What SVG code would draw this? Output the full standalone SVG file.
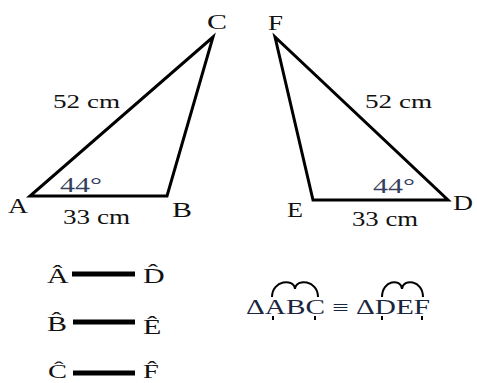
<svg xmlns="http://www.w3.org/2000/svg" width="477" height="383" viewBox="0 0 477 383" font-family="'Liberation Serif', 'Times New Roman', serif">
<style>
.edge{fill:none;stroke:#000;stroke-width:3;stroke-linejoin:miter}
.bar{stroke:#000;stroke-width:5}
.arc{fill:none;stroke:#000;stroke-width:2}
.lbl{fill:#111}
.ang{fill:#34425e}
</style>
<rect width="477" height="383" fill="#fff"/>
<g id="triangle-ABC">
<polygon class="edge" points="30,196 167,196 213,37"/>
<text class="lbl" x="207" y="29" font-size="21" textLength="20" lengthAdjust="spacingAndGlyphs">C</text>
<text class="lbl" x="8" y="213" font-size="21" textLength="20" lengthAdjust="spacingAndGlyphs">A</text>
<text class="lbl" x="172" y="217" font-size="21" textLength="20" lengthAdjust="spacingAndGlyphs">B</text>
<text class="lbl" x="53" y="108" font-size="19" textLength="67" lengthAdjust="spacingAndGlyphs">52 cm</text>
<text class="ang" x="60" y="192" font-size="21" textLength="42" lengthAdjust="spacingAndGlyphs">44°</text>
<text class="lbl" x="63" y="224" font-size="20" textLength="67" lengthAdjust="spacingAndGlyphs">33 cm</text>
</g>
<g id="triangle-DEF">
<polygon class="edge" points="275,37 313,200 448,200"/>
<text class="lbl" x="268" y="30" font-size="21" textLength="15" lengthAdjust="spacingAndGlyphs">F</text>
<text class="lbl" x="287" y="217" font-size="21" textLength="16" lengthAdjust="spacingAndGlyphs">E</text>
<text class="lbl" x="453" y="210" font-size="21" textLength="20" lengthAdjust="spacingAndGlyphs">D</text>
<text class="lbl" x="365" y="108" font-size="19" textLength="67" lengthAdjust="spacingAndGlyphs">52 cm</text>
<text class="ang" x="373" y="193" font-size="21" textLength="42" lengthAdjust="spacingAndGlyphs">44°</text>
<text class="lbl" x="352" y="226" font-size="20" textLength="66" lengthAdjust="spacingAndGlyphs">33 cm</text>
</g>
<g id="correspondence">
<g id="row-A-D">
<text class="lbl" transform="translate(47,283) scale(1.5,1)" font-size="20">Â</text>
<line class="bar" x1="72" y1="274" x2="135" y2="274"/>
<text class="lbl" transform="translate(143,283) scale(1.5,1)" font-size="20">D̂</text>
</g>
<g id="row-B-E">
<text class="lbl" transform="translate(47,331) scale(1.5,1)" font-size="20">B̂</text>
<line class="bar" x1="73" y1="322" x2="135" y2="322"/>
<text class="lbl" transform="translate(143,334) scale(1.5,1)" font-size="20">Ê</text>
</g>
<g id="row-C-F">
<text class="lbl" transform="translate(48,378) scale(1.5,1)" font-size="19">Ĉ</text>
<line class="bar" x1="73" y1="373" x2="135" y2="373"/>
<text class="lbl" transform="translate(143,378) scale(1.5,1)" font-size="19">F̂</text>
</g>
</g>
<g id="congruence">
<text x="246" y="314" font-size="20" fill="#1a2540" textLength="184" lengthAdjust="spacingAndGlyphs">ΔABC ≡ ΔDEF</text>
<path class="arc" d="M272,297 C272,280 294,278 295,289 C296,278 318,280 318,297"/>
<path class="arc" d="M382,297 C382,280 401,278 402,289 C403,278 423,280 423,297"/>
<g stroke="#000" stroke-width="2">
<line x1="273" y1="316" x2="273" y2="320"/>
<line x1="315" y1="316" x2="315" y2="320"/>
<line x1="382" y1="316" x2="382" y2="320"/>
<line x1="422" y1="316" x2="422" y2="320"/>
</g>
</g>
</svg>
